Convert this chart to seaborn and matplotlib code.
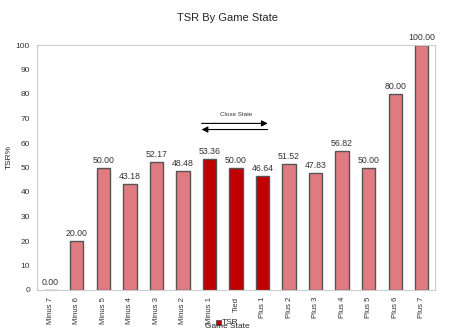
import matplotlib
matplotlib.use("Agg")
import matplotlib.pyplot as plt
import seaborn as sns
import pandas as pd

states = ["Minus 7", "Minus 6", "Minus 5", "Minus 4", "Minus 3", "Minus 2", "Minus 1",
          "Tied", "Plus 1", "Plus 2", "Plus 3", "Plus 4", "Plus 5", "Plus 6", "Plus 7"]
tsr = [0.00, 20.00, 50.00, 43.18, 52.17, 48.48, 53.36,
       50.00, 46.64, 51.52, 47.83, 56.82, 50.00, 80.00, 100.00]
close_states = ["Minus 1", "Tied", "Plus 1"]

light = "#E07B82"
dark = "#C00000"

df = pd.DataFrame({"Game State": states, "TSR": tsr})
palette = {s: (dark if s in close_states else light) for s in states}

sns.set_style("white")
plt.rcParams["font.family"] = ["Liberation Sans", "DejaVu Sans"]

fig = plt.figure(figsize=(4.55, 3.35), dpi=100)
ax = fig.add_axes([37 / 455, 45 / 335, 398 / 455, 245 / 335])

sns.barplot(data=df, x="Game State", y="TSR", hue="Game State", palette=palette,
            width=0.5, edgecolor="#555555", linewidth=1.0, legend=False, ax=ax,
            saturation=1)

for i, v in enumerate(tsr):
    ax.text(i, v + 1.2, f"{v:.2f}", ha="center", va="bottom", fontsize=6.3, color="#333333")

ax.set_ylim(0, 100)
ax.set_xlim(-0.5, len(states) - 0.5)
ax.set_yticks(range(0, 101, 10))
ax.tick_params(axis="y", labelsize=6, length=3, color="#aaaaaa", colors="#333333", pad=2)
ax.tick_params(axis="x", labelsize=5.6, length=3, color="#aaaaaa", colors="#333333",
               rotation=90, pad=2)
for s in ["left", "bottom", "right", "top"]:
    ax.spines[s].set_color("#cccccc")
    ax.spines[s].set_linewidth(0.8)
ax.set_xlabel("")
ax.set_ylabel("")

fig.text(0.5, 1 - 18 / 335, "TSR By Game State", ha="center", va="center", fontsize=8)
fig.text(9 / 455, 0.5 + 0.03, "TSR%", rotation=90, ha="center", va="center", fontsize=6)
fig.text(227 / 455, 1 - 327 / 335, "Game State", ha="center", va="center", fontsize=6)
fig.patches.append(plt.Rectangle((216 / 455, 1 - 325 / 335), 5 / 455, 5 / 335,
                                 transform=fig.transFigure, facecolor=dark,
                                 edgecolor="#444444", linewidth=0.5))
fig.text(222 / 455, 1 - 322 / 335, "TSR", ha="left", va="center", fontsize=6)

# Close-state annotation with opposing arrows over the middle bars
ax.text(7.0, 70.5, "Close State", ha="center", va="bottom", fontsize=4.5, color="#333333")
ax.annotate("", xy=(8.3, 68), xytext=(5.6, 68),
            arrowprops=dict(arrowstyle="-|>", color="black", lw=0.8, mutation_scale=9))
ax.annotate("", xy=(5.6, 65.5), xytext=(8.3, 65.5),
            arrowprops=dict(arrowstyle="-|>", color="black", lw=0.8, mutation_scale=9))

fig.savefig("out.png", dpi=100)
